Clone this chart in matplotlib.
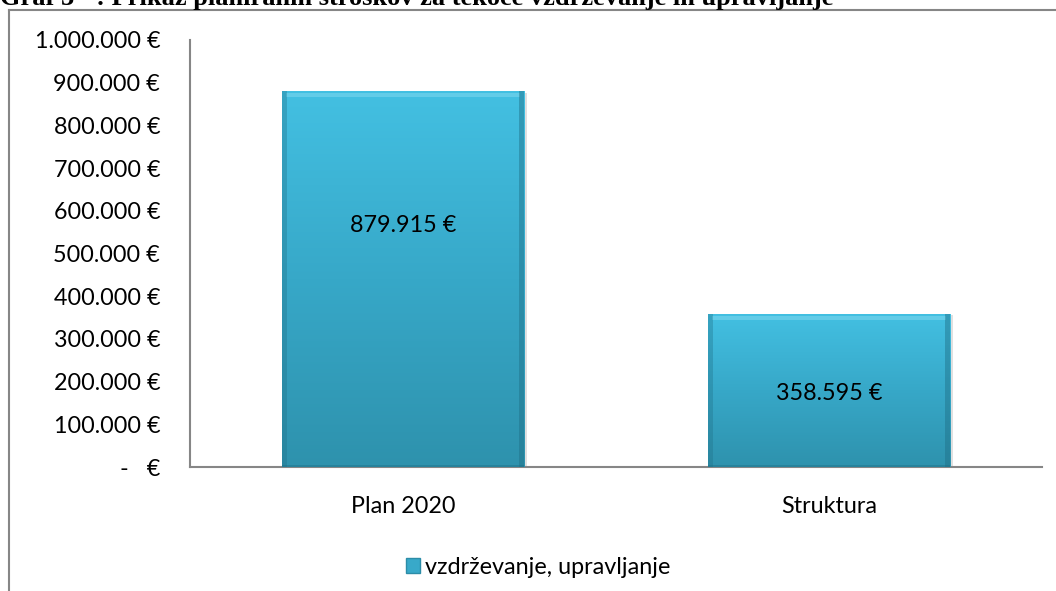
import numpy as np
import matplotlib
matplotlib.use("Agg")
import matplotlib.pyplot as plt
import matplotlib.patches as mpatches
from matplotlib.lines import Line2D
from matplotlib.colors import LinearSegmentedColormap

# ── data ─────────────────────────────────────────────────────────────────────
categories = ["Plan 2020", "Struktura"]
values = [879915, 358595]
series_name = "vzdrževanje, upravljanje"
yticks = [0, 100000, 200000, 300000, 400000, 500000, 600000, 700000, 800000, 900000, 1000000]
title = "Graf 3 - : Prikaz planiranih stroškov za tekoče vzdrževanje in upravljanje"

# label placement inside the bars (fraction of bar height)
LABEL_FRAC = [0.644, 0.483]

# ── style ────────────────────────────────────────────────────────────────────
FONT = "Lato"
FS = 16.8
AXIS_GRAY = "#868686"
TOP_C = "#43C0E2"
BOT_C = "#2E92AD"
grad = LinearSegmentedColormap.from_list("bar", [BOT_C, "#37A8C8", TOP_C])

W, H = 1056, 591
fig = plt.figure(figsize=(W / 100, H / 100), dpi=100)
ax = fig.add_axes([190 / W, 1 - 467 / H, (1042 - 190) / W, (467 - 40) / H])

x = np.arange(len(categories))
bw = 0.57
bars = ax.bar(x, values, width=bw, color=TOP_C, edgecolor="none", zorder=2)

# gradient fill + bevel look
for b in bars:
    x0, y0 = b.get_x(), b.get_y()
    w, h = b.get_width(), b.get_height()
    g = np.linspace(0, 1, 256).reshape(-1, 1)
    im = ax.imshow(g, cmap=grad, aspect="auto", origin="lower",
                   extent=[x0, x0 + w, y0, y0 + h], zorder=3)
    im.set_clip_path(b)
    # shadow
    ax.add_patch(mpatches.Rectangle((x0 + 0.006, y0 - 3000), w, h, color="#000000",
                                    alpha=0.12, zorder=1.5, linewidth=0))
    # top highlight bevel
    ax.add_patch(mpatches.Rectangle((x0 + 0.01, y0 + h - 14000), w - 0.02, 9000,
                                    color="#7FD8EF", alpha=0.55, zorder=4, linewidth=0))
    # side bevels
    ax.add_patch(mpatches.Rectangle((x0, y0), 0.012, h, color="#1F6F86",
                                    alpha=0.35, zorder=4, linewidth=0))
    ax.add_patch(mpatches.Rectangle((x0 + w - 0.012, y0), 0.012, h, color="#1F6F86",
                                    alpha=0.45, zorder=4, linewidth=0))
    ax.add_patch(mpatches.Rectangle((x0, y0), w, 5000, color="#1F6F86",
                                    alpha=0.45, zorder=4, linewidth=0))

def eur(v):
    if v == 0:
        return "-   €"
    return f"{v:,.0f} €".replace(",", ".")

for xi, v, f in zip(x, values, LABEL_FRAC):
    ax.text(xi, v * f, eur(v), ha="center", va="center", fontsize=FS,
            family=FONT, color="#000000", zorder=5)

ax.set_xlim(-0.5, len(categories) - 0.5)
ax.set_ylim(0, 1000000)
ax.set_yticks(yticks)
ax.set_yticklabels([eur(t) for t in yticks], family=FONT, fontsize=FS)
ax.set_xticks(x)
ax.set_xticklabels(categories, family=FONT, fontsize=FS)
ax.tick_params(axis="y", length=0, pad=21.5)
ax.tick_params(axis="x", length=0, pad=21)
for s in ["top", "right"]:
    ax.spines[s].set_visible(False)
for s in ["left", "bottom"]:
    ax.spines[s].set_color(AXIS_GRAY)
    ax.spines[s].set_linewidth(1.5)

# legend
handle = mpatches.Patch(facecolor="#38A9C9", edgecolor="#2C8DA8", label=series_name)
fig.legend(handles=[handle], loc="center", bbox_to_anchor=(538 / W, 1 - 567 / H),
           frameon=False, prop={"family": FONT, "size": FS}, handlelength=0.6,
           handleheight=0.6, handletextpad=0.2)

# chart frame (partly outside the picture)
fy = 1 - 10 / H
fx = 9 / W
fig.add_artist(Line2D([fx, fx], [0, fy], color=AXIS_GRAY, linewidth=1.5))
fig.add_artist(Line2D([fx, 1], [fy, fy], color=AXIS_GRAY, linewidth=1.5))

# cut-off title above the chart (as in the reference)
fig.text(0.0, 1 - 5 / H, title, ha="left", va="baseline", fontsize=19,
         family="Liberation Serif", fontweight="bold")

fig.savefig("out.png", dpi=100)
